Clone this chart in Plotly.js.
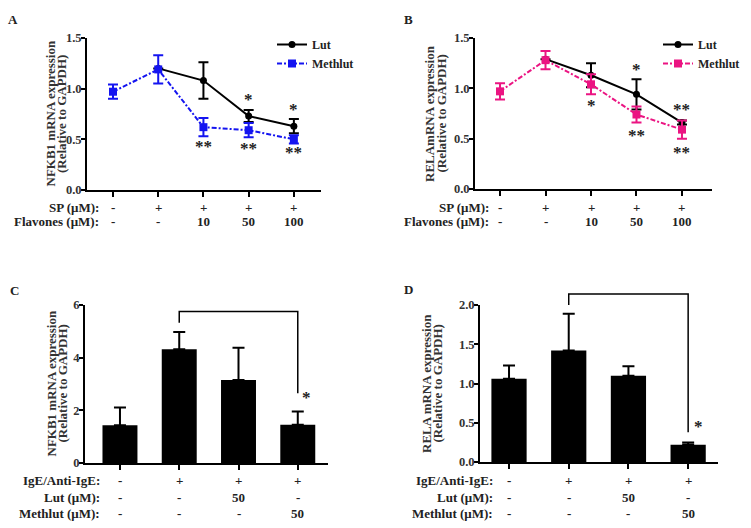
<!DOCTYPE html>
<html>
<head>
<meta charset="utf-8">
<script src="https://cdn.plot.ly/plotly-3.0.1.min.js"></script>
<style>html,body{margin:0;padding:0;background:#fff}#chart{width:751px;height:528px}</style>
</head>
<body>
<div id="chart"></div>
<script>
// ---------- DATA ----------
// Panels A & B: x positions are the five treatment groups
const lineGroups = [0, 1, 2, 3, 4];
const spRow = ["-", "+", "+", "+", "+"];
const flavRow = ["-", "-", "10", "50", "100"];

// Panel A: NFKB1
const lutX = [1, 2, 3, 4];
const aLut = [1.20, 1.08, 0.73, 0.63];
const aLutErr = [0.0, 0.18, 0.06, 0.07];
const aMeth = [0.97, 1.19, 0.62, 0.59, 0.50];
const aMethErr = [0.07, 0.14, 0.09, 0.07, 0.04];
const aStarX = [3, 4, 2, 3, 4];
const aStarY = [0.89, 0.79, 0.43, 0.41, 0.37];
const aStarText = ["*", "*", "**", "**", "**"];

// Panel B: RELA
const bLut = [1.29, 1.13, 0.94, 0.66];
const bLutErr = [0.0, 0.12, 0.15, 0.02];
const bMeth = [0.97, 1.28, 1.04, 0.74, 0.59];
const bMethErr = [0.08, 0.09, 0.10, 0.08, 0.09];
const bStarX = [2, 3, 3, 4, 4];
const bStarY = [0.83, 1.19, 0.53, 0.79, 0.36];
const bStarText = ["*", "*", "**", "**", "**"];

// Panels C & D: four groups
const barGroups = [0, 1, 2, 3];
const igeRow = ["-", "+", "+", "+"];
const lutRow = ["-", "-", "50", "-"];
const methRow = ["-", "-", "-", "50"];

// Panel C: NFKB1
const cVals = [1.43, 4.32, 3.15, 1.45];
const cErr = [0.68, 0.65, 1.23, 0.51];
const cBracketX = [1, 1, 3, 3];
const cBracketY = [5.33, 5.75, 5.75, 2.65];
const cStarX = [3.15], cStarY = [2.5], cStarText = ["*"];

// Panel D: RELA
const dVals = [1.06, 1.42, 1.10, 0.22];
const dErr = [0.17, 0.47, 0.12, 0.03];
const dBracketX = [1, 1, 3, 3];
const dBracketY = [2.0, 2.14, 2.14, 0.38];
const dStarX = [3.17], dStarY = [0.45], dStarText = ["*"];

// Axis titles (two lines each)
const titleA = ["NFKB1 mRNA expression", "(Relative to GAPDH)"];
const titleB = ["RELAmRNA expression", "(Relative to GAPDH)"];
const titleC = ["NFKB1 mRNA expression", "(Relative to GAPDH)"];
const titleD = ["RELA mRNA expression", "(Relative to GAPDH)"];

// ---------- STYLE ----------
const W = 751, H = 528;
const FONT = "Liberation Serif, Times New Roman, serif";
const BLUE = "#1414f0";
const PINK = "#eb1482";
const DASHDOT = "5px,2px,2px,2px";
const px = v => v / W;
const py = v => 1 - v / H;
const zeros = n => new Array(n).fill(0);

function lineTraces(xa, ya, lutY, lutErr, methY, methErr, methColor, legendName) {
  return [
    {
      type: "scatter", mode: "lines+markers", name: "Lut",
      x: lutX, y: lutY, xaxis: xa, yaxis: ya, legend: legendName,
      line: {color: "#000", width: 2},
      marker: {symbol: "circle", size: 7, color: "#000"},
      error_y: {type: "data", array: lutErr, visible: true, color: "#000", thickness: 2, width: 5}
    },
    {
      type: "scatter", mode: "lines+markers", name: "Methlut",
      x: lineGroups, y: methY, xaxis: xa, yaxis: ya, legend: legendName,
      line: {color: methColor, width: 2, dash: DASHDOT},
      marker: {symbol: "square", size: 8, color: methColor},
      error_y: {type: "data", array: methErr, visible: true, color: methColor, thickness: 2, width: 5}
    }
  ];
}

function barTraces(xa, ya, yb, vals, err, bx, by) {
  return [
    {
      type: "bar", x: barGroups, y: vals, xaxis: xa, yaxis: ya, width: 0.59, showlegend: false,
      marker: {color: "#000", line: {width: 0}},
      error_y: {type: "data", symmetric: false, array: err, arrayminus: zeros(err.length),
                visible: true, color: "#000", thickness: 2, width: 6}
    },
    {
      type: "scatter", mode: "lines", x: bx, y: by, xaxis: xa, yaxis: yb, showlegend: false,
      line: {color: "#000", width: 1.5}, hoverinfo: "skip"
    }
  ];
}

const data = [
  ...lineTraces("x", "y", aLut, aLutErr, aMeth, aMethErr, BLUE, "legend"),
  ...lineTraces("x2", "y2", bLut, bLutErr, bMeth, bMethErr, PINK, "legend2"),
  ...barTraces("x3", "y3", "y3", cVals, cErr, cBracketX, cBracketY),
  ...barTraces("x4", "y4", "y5", dVals, dErr, dBracketX, dBracketY)
];

function xAx(domain, range, vals, anchor) {
  return {domain, range, anchor, showline: true, linewidth: 2, linecolor: "#000",
          ticks: "outside", ticklen: 5, tickwidth: 2, tickcolor: "#000",
          tickvals: vals, showticklabels: false, showgrid: false, zeroline: false, fixedrange: true};
}
function yAx(domain, range, dtick, anchor) {
  return {domain, range, anchor, dtick, tickformat: dtick < 1 ? ".1f" : "d",
          showline: true, linewidth: 2, linecolor: "#000",
          ticks: "outside", ticklen: 4, tickwidth: 2, tickcolor: "#000", ticklabelstandoff: -3,
          tickfont: {family: FONT, size: 12.5, color: "#333", weight: 700},
          showgrid: false, zeroline: false, fixedrange: true};
}

const annotations = [];
function txt(o) {
  annotations.push(Object.assign({showarrow: false, font: {family: FONT, size: 13, color: "#222", weight: 700}}, o));
}
// panel letters
txt({text: "A", xref: "paper", yref: "paper", x: px(13), y: py(19), xanchor: "center", yanchor: "middle"});
txt({text: "B", xref: "paper", yref: "paper", x: px(408), y: py(19), xanchor: "center", yanchor: "middle"});
txt({text: "C", xref: "paper", yref: "paper", x: px(14), y: py(290), xanchor: "center", yanchor: "middle"});
txt({text: "D", xref: "paper", yref: "paper", x: px(408), y: py(289), xanchor: "center", yanchor: "middle"});

// y-axis titles (rotated, one annotation per line for tight line spacing)
function ytitle(lines, x1, x2, yTop, yBot) {
  [x1, x2].forEach((xp, i) => annotations.push({text: lines[i], xref: "paper", yref: "paper",
    x: px(xp), y: py((yTop + yBot) / 2), xanchor: "center", yanchor: "middle", textangle: -90,
    showarrow: false, font: {family: FONT, size: 13, color: "#333", weight: 700}}));
}
ytitle(titleA, 49.5, 61, 38, 190);
ytitle(titleB, 429.5, 441, 38, 189);
ytitle(titleC, 50.5, 61.5, 305, 463);
ytitle(titleD, 426.5, 437, 305, 462);

function rows(xref, labelRight, rowsDef) {
  rowsDef.forEach(([label, yPix, vals, cats]) => {
    txt({text: label, xref: "paper", yref: "paper", x: px(labelRight), y: py(yPix), xanchor: "right", yanchor: "middle"});
    vals.forEach((v, i) => txt({text: v, xref: xref, yref: "paper", x: cats[i], y: py(yPix), xanchor: "center", yanchor: "middle"}));
  });
}
rows("x", 101, [["SP (μM):", 207, spRow, lineGroups], ["Flavones (μM):", 222, flavRow, lineGroups]]);
rows("x2", 491, [["SP (μM):", 207, spRow, lineGroups], ["Flavones (μM):", 222, flavRow, lineGroups]]);
rows("x3", 102, [["IgE/Anti-IgE:", 480, igeRow, barGroups], ["Lut (μM):", 497, lutRow, barGroups], ["Methlut (μM):", 513, methRow, barGroups]]);
rows("x4", 495, [["IgE/Anti-IgE:", 480, igeRow, barGroups], ["Lut (μM):", 497, lutRow, barGroups], ["Methlut (μM):", 513, methRow, barGroups]]);

function stars(xref, yref, xs, ys, ts) {
  xs.forEach((x, i) => annotations.push({text: ts[i], xref, yref, x, y: ys[i], showarrow: false,
    xanchor: "center", yanchor: "middle", font: {family: FONT, size: 17, color: "#222", weight: 700}}));
}
stars("x", "y", aStarX, aStarY, aStarText);
stars("x2", "y2", bStarX, bStarY, bStarText);
stars("x3", "y3", cStarX, cStarY, cStarText);
stars("x4", "y4", dStarX, dStarY, dStarText);

const legendBase = {xanchor: "left", yanchor: "top", bgcolor: "rgba(0,0,0,0)", borderwidth: 0,
  font: {family: FONT, size: 12, color: "#222", weight: 700}, itemwidth: 30, tracegroupgap: 0};

const layout = {
  width: W, height: H,
  margin: {l: 0, r: 0, t: 0, b: 0, autoexpand: false},
  paper_bgcolor: "#fff", plot_bgcolor: "rgba(0,0,0,0)",
  font: {family: FONT, color: "#222"},
  showlegend: true,
  legend: Object.assign({x: px(272), y: py(30)}, legendBase),
  legend2: Object.assign({x: px(658), y: py(30)}, legendBase),
  xaxis: xAx([px(87), px(321)], [-0.575, 4.6], lineGroups, "y"),
  yaxis: yAx([py(190), py(38)], [0, 1.5], 0.5, "x"),
  xaxis2: xAx([px(475), px(712)], [-0.55, 4.66], lineGroups, "y2"),
  yaxis2: yAx([py(189), py(38)], [0, 1.5], 0.5, "x2"),
  xaxis3: xAx([px(85), px(328)], [-0.59, 3.51], barGroups, "y3"),
  yaxis3: yAx([py(463), py(305)], [0, 6], 2, "x3"),
  xaxis4: xAx([px(480), px(718)], [-0.486, 3.5], barGroups, "y4"),
  yaxis4: yAx([py(462), py(305)], [0, 2], 0.5, "x4"),
  // invisible companion axis (same scale as yaxis4, taller) so the bracket can rise above 2.0
  yaxis5: {domain: [py(462), py(462 - 2.2 * 157 / 2)], range: [0, 2.2], anchor: "x4", visible: false, fixedrange: true},
  annotations
};

Plotly.newPlot("chart", data, layout, {displayModeBar: false, staticPlot: true});
</script>
</body>
</html>
